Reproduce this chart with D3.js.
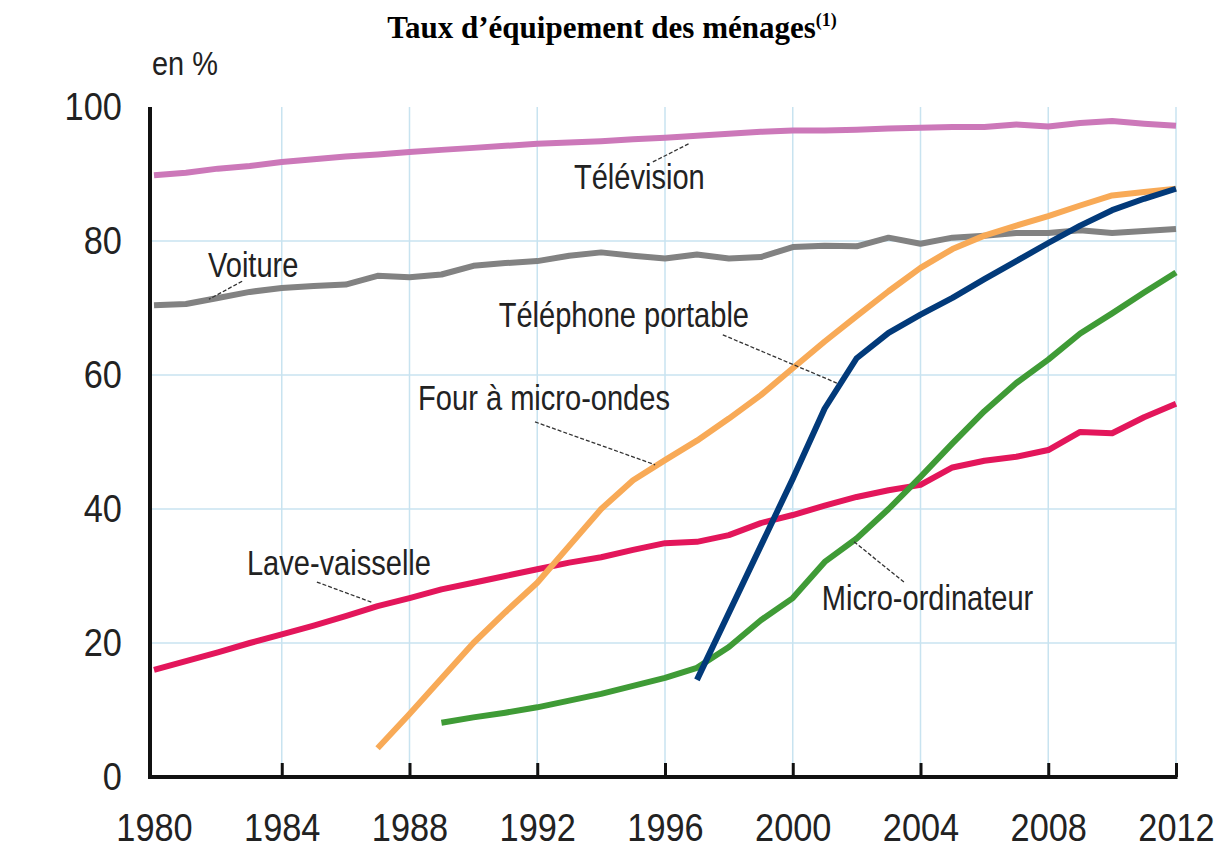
<!DOCTYPE html>
<html>
<head>
<meta charset="utf-8">
<script src="https://cdn.jsdelivr.net/npm/d3@7"></script>
<style>
  body { margin: 0; background: #fff; }
  svg { display: block; }
</style>
</head>
<body>
<script>
// size of the page
var w = 1225;
var h = 850;

// years and values
var years = d3.range(1980, 2013);
var television = [89.8,90.2,90.8,91.2,91.8,92.2,92.6,92.9,93.3,93.6,93.9,94.2,94.5,94.7,94.9,95.2,95.4,95.7,96.0,96.3,96.5,96.5,96.6,96.8,96.9,97.0,97.0,97.4,97.1,97.6,97.9,97.5,97.2];
var voiture = [70.4,70.6,71.5,72.4,73.0,73.3,73.5,74.8,74.6,75.0,76.3,76.7,77.0,77.8,78.3,77.8,77.4,78.0,77.4,77.6,79.1,79.3,79.2,80.5,79.6,80.5,80.8,81.2,81.2,81.6,81.2,81.5,81.8];
var laveVaisselle = [16.0,17.3,18.6,20.0,21.3,22.6,24.0,25.5,26.7,28.0,29.0,30.0,31.0,32.0,32.8,33.9,34.9,35.1,36.1,37.9,39.1,40.5,41.8,42.8,43.6,46.2,47.2,47.8,48.8,51.5,51.3,53.7,55.7];
// series that start later
var microOndesYears = d3.range(1987, 2013);
var microOndes = [4.3,9.4,14.7,20.0,24.6,29.0,34.5,40.0,44.3,47.3,50.2,53.5,57.0,61.0,65.0,68.8,72.5,76.0,78.8,80.8,82.3,83.7,85.3,86.8,87.3,87.8];
var portableYears = d3.range(1997, 2013);
var portable = [14.5,24.5,34.5,44.5,55.0,62.5,66.3,69.0,71.5,74.3,77.0,79.7,82.3,84.6,86.3,87.8];
var ordiYears = d3.range(1989, 2013);
var ordinateur = [8.1,8.9,9.6,10.4,11.4,12.4,13.6,14.8,16.3,19.4,23.4,26.7,32.1,35.6,40.0,44.8,49.8,54.6,58.8,62.3,66.2,69.2,72.3,75.3];

var xTicks = [1980,1984,1988,1992,1996,2000,2004,2008,2012];
var yTicks = [0,20,40,60,80,100];

var series = [
  {name: "Télévision", years: years, values: television, color: "#cc78b9",
   label: [1993.15, 87.8], lead: [[1995.62, 91.8],[1996.78, 94.6]]},
  {name: "Voiture", years: years, values: voiture, color: "#828282",
   label: [1981.69, 74.6], lead: [[1982.76, 74.0],[1981.72, 71.3]]},
  {name: "Lave-vaisselle", years: years, values: laveVaisselle, color: "#e3165b",
   label: [1982.91, 30.1], lead: [[1985.10, 29.1],[1986.86, 26.0]]},
  {name: "Four à micro-ondes", years: microOndesYears, values: microOndes, color: "#f8aa57",
   label: [1988.27, 54.8], lead: [[1991.93, 53.0],[1995.69, 46.6]]},
  {name: "Micro-ordinateur", years: ordiYears, values: ordinateur, color: "#3f9b36",
   label: [2000.91, 24.9], lead: [[2001.92, 35.1],[2003.51, 29.0]]},
  {name: "Téléphone portable", years: portableYears, values: portable, color: "#023a7a",
   label: [1998.63, 67.2], anchor: "end", lead: [[1997.81, 66.0],[2001.38, 58.8]]}
];

// condensed look: Arial metrics squeezed horizontally
var font = "'Liberation Sans', Arial, sans-serif";
var squeeze = 0.83;

var svg = d3.select("body")
            .append("svg")
            .attr("width", w)
            .attr("height", h)
            .style("background", "#fff");

var x = d3.scaleLinear().domain([1980, 2012]).range([154, 1176]);
var y = d3.scaleLinear().domain([0, 100]).range([777, 107]);

// title
var title = svg.append("text")
   .attr("x", 612)
   .attr("y", 38)
   .attr("text-anchor", "middle")
   .attr("font-family", "'Liberation Serif', 'Times New Roman', serif")
   .attr("font-weight", "bold")
   .attr("font-size", "31px")
   .attr("fill", "#000");
title.append("tspan").text("Taux d’équipement des ménages");
title.append("tspan").text("(1)").attr("font-size", "18px").attr("dy", "-12");

// grid
svg.append("g").selectAll("line")
   .data(xTicks.slice(1))
   .enter()
   .append("line")
   .attr("x1", function(d) { return x(d); })
   .attr("x2", function(d) { return x(d); })
   .attr("y1", y(100))
   .attr("y2", y(0))
   .attr("stroke", "#c8e3f0")
   .attr("stroke-width", 1.5);

svg.append("g").selectAll("line")
   .data([20,40,60,80])
   .enter()
   .append("line")
   .attr("x1", 150)
   .attr("x2", x(2012))
   .attr("y1", function(d) { return y(d); })
   .attr("y2", function(d) { return y(d); })
   .attr("stroke", "#c8e3f0")
   .attr("stroke-width", 1.5);

// lines
var line = d3.line()
   .x(function(d) { return x(d[0]); })
   .y(function(d) { return y(d[1]); });

series.forEach(function(s) {
  var pts = s.years.map(function(yr, i) { return [yr, s.values[i]]; });
  svg.append("path")
     .attr("d", line(pts))
     .attr("fill", "none")
     .attr("stroke", s.color)
     .attr("stroke-width", 6)
     .attr("stroke-linejoin", "round");
});

// labels with dashed leaders
series.forEach(function(s) {
  svg.append("line")
     .attr("x1", x(s.lead[0][0]))
     .attr("y1", y(s.lead[0][1]))
     .attr("x2", x(s.lead[1][0]))
     .attr("y2", y(s.lead[1][1]))
     .attr("stroke", "#333")
     .attr("stroke-width", 1.3)
     .attr("stroke-dasharray", "4,2");
  svg.append("g")
     .attr("transform", "translate(" + x(s.label[0]) + "," + y(s.label[1]) + ") scale(" + squeeze + ",1)")
     .append("text")
     .text(s.name)
     .attr("text-anchor", s.anchor || "start")
     .attr("font-family", font)
     .attr("font-size", "35px")
     .attr("fill", "#222");
});

// axes
var xAxis = d3.axisBottom(x).tickValues(xTicks).tickSize(-14).tickSizeOuter(0).tickPadding(36).tickFormat(d3.format("d"));
var gx = svg.append("g").attr("transform", "translate(0,777)").call(xAxis);
gx.select(".domain").remove();
gx.selectAll(".tick line").attr("stroke", "#111").attr("stroke-width", 3);
gx.selectAll(".tick").filter(function(d) { return d == 1980; }).select("line").remove();
gx.selectAll("text")
  .attr("font-family", font).attr("font-size", "39px").attr("fill", "#222")
  .attr("transform", "scale(0.88,1)");

var yAxis = d3.axisLeft(y).tickValues(yTicks).tickSize(0).tickPadding(32);
var gy = svg.append("g").attr("transform", "translate(150,0)").call(yAxis);
gy.select(".domain").remove();
gy.selectAll("text")
  .attr("font-family", font).attr("font-size", "39px").attr("fill", "#222")
  .attr("transform", "scale(0.88,1)");

svg.append("line")
   .attr("x1", 150).attr("x2", 150)
   .attr("y1", y(100)).attr("y2", y(0) + 2)
   .attr("stroke", "#111").attr("stroke-width", 4);
svg.append("line")
   .attr("x1", 148).attr("x2", x(2012) + 1.5)
   .attr("y1", y(0)).attr("y2", y(0))
   .attr("stroke", "#111").attr("stroke-width", 4);

svg.append("g")
   .attr("transform", "translate(152,75) scale(0.85,1)")
   .append("text")
   .text("en %")
   .attr("font-family", font)
   .attr("font-size", "34px")
   .attr("fill", "#222");
</script>
</body>
</html>
